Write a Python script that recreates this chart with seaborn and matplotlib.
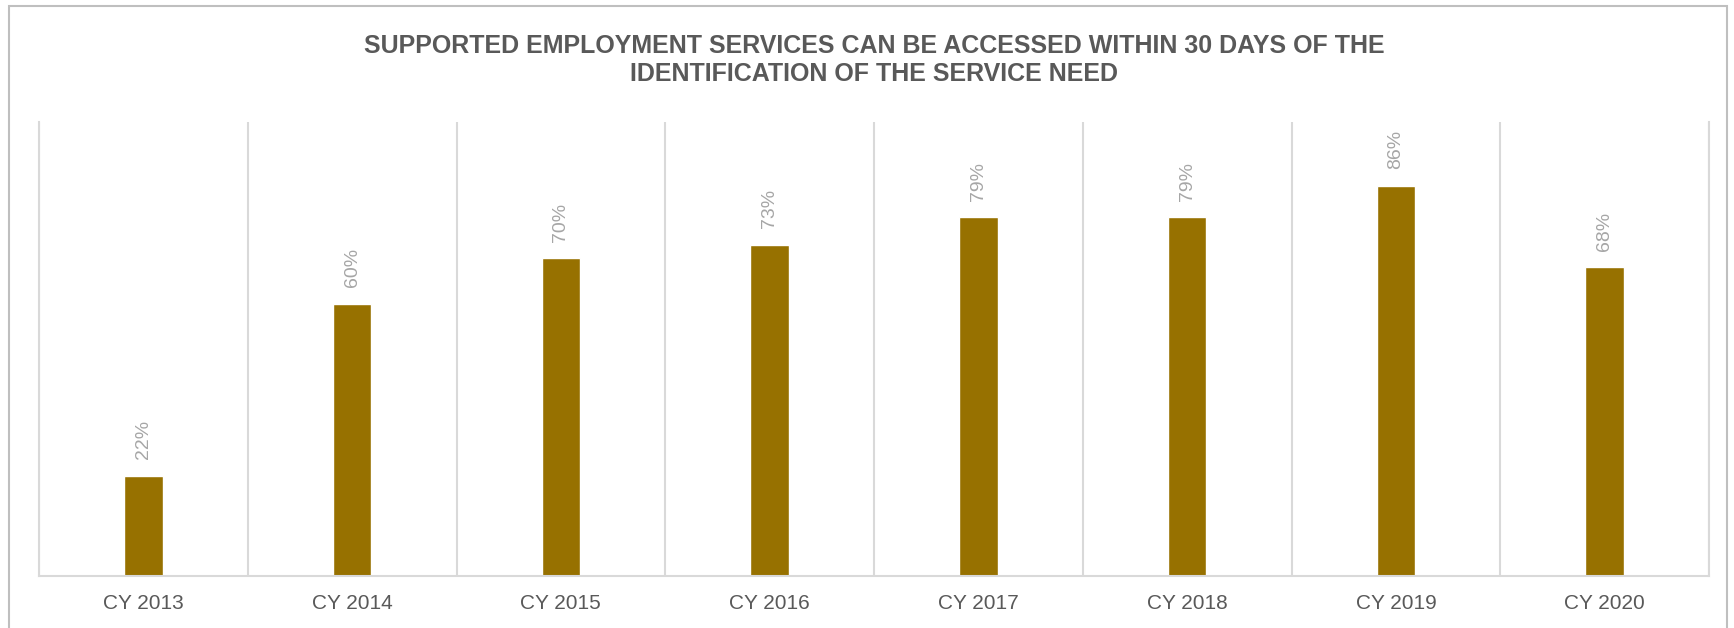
"""
Supported employment access chart, bar per calendar year.
"""
import numpy as np
import pandas as pd
import matplotlib
matplotlib.use('Agg')
import matplotlib.pyplot as plt
from matplotlib.patches import Rectangle
import seaborn as sns

years = ['CY 2013', 'CY 2014', 'CY 2015', 'CY 2016', 'CY 2017', 'CY 2018', 'CY 2019', 'CY 2020']
pct = [22, 60, 70, 73, 79, 79, 86, 68]
title = 'SUPPORTED EMPLOYMENT SERVICES CAN BE ACCESSED WITHIN 30 DAYS OF THE\nIDENTIFICATION OF THE SERVICE NEED'

df = pd.DataFrame({'year': years, 'pct': pct})

sns.set_style('white')
plt.rcParams['font.family'] = ['Liberation Sans', 'DejaVu Sans']

fig = plt.figure(figsize=(17.34, 6.28), dpi=100)
ax = fig.add_axes([39 / 1734, 1 - 576 / 628, (1709 - 39) / 1734, (576 - 122) / 628])

sns.barplot(data=df, x='year', y='pct', color='#977100', saturation=1, width=0.185, ax=ax)

ax.set_ylim(0, 100)
ax.set_xlim(-0.5, len(years) - 0.5)
ax.set_yticks([])
ax.set_xlabel('')
ax.set_ylabel('')

# vertical separators between categories
for x in np.arange(-0.5, len(years), 1):
    ax.axvline(x, color='#d9d9d9', lw=1.5, zorder=0)
ax.spines['top'].set_visible(False)
for s in ['left', 'right', 'bottom']:
    ax.spines[s].set_color('#d9d9d9')
    ax.spines[s].set_linewidth(1.5)

ax.tick_params(axis='x', length=0, pad=13, labelsize=15, labelcolor='#595959')

for i, v in enumerate(pct):
    ax.annotate(f'{v}%', (i, v), xytext=(0, 12), textcoords='offset points',
                rotation=90, ha='center', va='bottom', fontsize=14, color='#a6a6a6')

fig.text(0.504, 1 - 60 / 628, title, ha='center', va='center', fontsize=18,
         fontweight='bold', color='#595959', linespacing=1.2)

# outer chart border
fig.patches.append(Rectangle((9 / 1734, -0.1), (1727 - 9) / 1734, 1.1 - 6 / 628,
                             transform=fig.transFigure, fill=False,
                             edgecolor='#bfbfbf', lw=1.5))

fig.savefig('out.png', dpi=100)
